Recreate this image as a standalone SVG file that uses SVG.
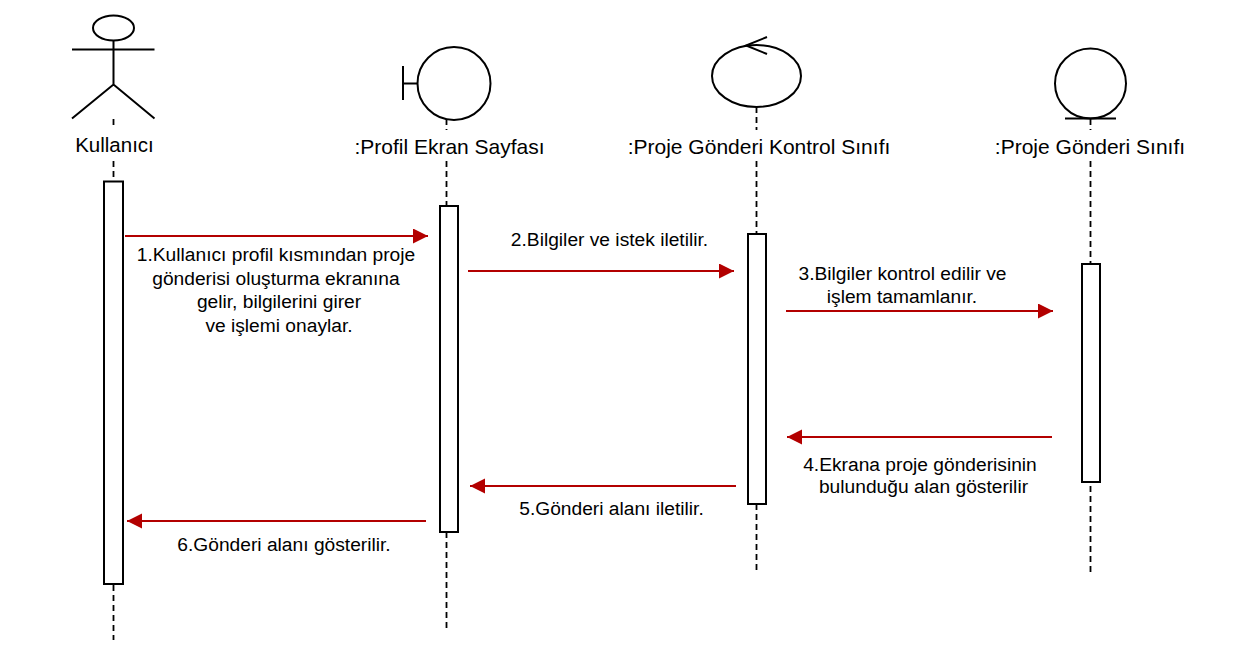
<svg xmlns="http://www.w3.org/2000/svg" width="1233" height="660" viewBox="0 0 1233 660">
<style>
text{font-family:"Liberation Sans",Arial,sans-serif;fill:#000;text-anchor:middle}
.t{font-size:21px}
.m{font-size:19.2px}
.s{fill:none;stroke:#000;stroke-width:2}
.a{fill:#fff;stroke:#000;stroke-width:2}
.l{stroke:#000;stroke-width:1.8;stroke-dasharray:6 4;fill:none}
.c{stroke:#b30000;stroke-width:2;fill:none;marker-end:url(#h)}
</style>
<defs><marker id="h" markerUnits="userSpaceOnUse" markerWidth="16" markerHeight="16" refX="15" refY="7.5" orient="auto"><path d="M0 0L15 7.5L0 15Z" fill="#b30000"/></marker></defs>
<rect width="1233" height="660" fill="#fff"/>
<g id="lifelines">
<path class="l" d="M113.5 119V129M113.5 161V181M113.5 585V640"/>
<path class="l" d="M446.5 119V130M446.5 161V206M446.5 532V628"/>
<path class="l" d="M756.5 107V130M756.5 161V234M756.5 504V571"/>
<path class="l" d="M1090.5 119V130M1090.5 161V264M1090.5 486V575"/>
</g>
<g id="actor"><ellipse class="s" cx="113.5" cy="28" rx="20.5" ry="12.5"/><path class="s" d="M113.5 41V84.5M72 49.5H154.5M72 118.5L113.5 84.5L154.5 118.5"/><text class="t" x="114.5" y="151.5" style="font-size:20.5px">Kullanıcı</text></g>
<g id="boundary"><circle class="s" cx="454" cy="83.5" r="36.5"/><path class="s" d="M403 66V100M403 83.5H417"/><text class="t" x="449.5" y="153.5">:Profil Ekran Sayfası</text></g>
<g id="control"><ellipse class="s" cx="756.5" cy="76" rx="44.5" ry="31"/><path class="s" d="M767 37L746 45.5L767 54"/><text class="t" x="759" y="153.5">:Proje Gönderi Kontrol Sınıfı</text></g>
<g id="entity"><ellipse class="s" cx="1090.5" cy="83.5" rx="35.5" ry="35"/><path class="s" d="M1065 118.5H1116"/><text class="t" x="1090" y="153.5">:Proje Gönderi Sınıfı</text></g>
<g id="activations">
<rect class="a" x="104" y="181.5" width="19" height="402.5"/>
<rect class="a" x="440" y="206" width="18" height="326"/>
<rect class="a" x="748" y="234" width="18" height="270"/>
<rect class="a" x="1082" y="264" width="18" height="218"/>
</g>
<g id="connectors">
<path class="c" d="M125 236H428"/>
<path class="c" d="M468 271H734"/>
<path class="c" d="M786 311H1053"/>
<path class="c" d="M1052 437H787"/>
<path class="c" d="M736 486H470"/>
<path class="c" d="M426 521H127"/>
</g>
<g id="labels">
<text class="m" x="276" y="261">1.Kullanıcı profil kısmından proje</text>
<text class="m" x="276" y="285">gönderisi oluşturma ekranına</text>
<text class="m" x="279" y="308">gelir, bilgilerini girer</text>
<text class="m" x="279" y="332">ve işlemi onaylar.</text>
<text class="m" x="609.5" y="246">2.Bilgiler ve istek iletilir.</text>
<text class="m" x="902.5" y="280">3.Bilgiler kontrol edilir ve</text>
<text class="m" x="902" y="303">işlem tamamlanır.</text>
<text class="m" x="920" y="471">4.Ekrana proje gönderisinin</text>
<text class="m" x="923.5" y="493">bulunduğu alan gösterilir</text>
<text class="m" x="611.5" y="515">5.Gönderi alanı iletilir.</text>
<text class="m" x="284" y="551">6.Gönderi alanı gösterilir.</text>
</g>
</svg>
